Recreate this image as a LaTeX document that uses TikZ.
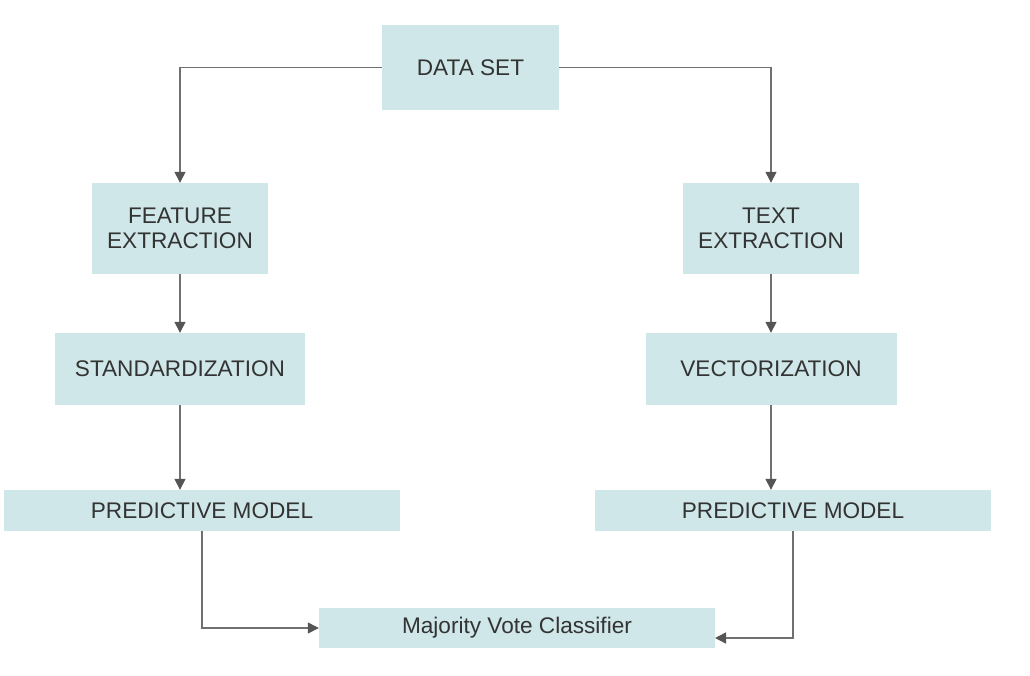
\documentclass[tikz,border=0pt]{standalone}
\usepackage{fontspec}
\setmainfont{Liberation Sans}
\usetikzlibrary{arrows.meta}
\definecolor{boxfill}{HTML}{CFE7E8}
\definecolor{txt}{HTML}{333333}
\definecolor{linec}{HTML}{707070}
\definecolor{tipc}{HTML}{555555}
\begin{document}
\begin{tikzpicture}[x=1pt,y=-1pt,
  box/.style={rectangle, fill=boxfill, draw=none, inner sep=0pt, align=center,
    text=txt, font=\fontsize{22.6}{25}\selectfont},
  conn/.style={draw=linec, line width=1.4pt,
    -{Triangle[length=11pt,width=11pt,color=tipc]}}]
\useasboundingbox (0,0) rectangle (1030,675);
\node[box, minimum width=177pt, minimum height=85pt] (ds) at (470.5,67.5) {DATA SET};
\node[box, minimum width=176pt, minimum height=91pt] (fe) at (180,228.5) {FEATURE\\EXTRACTION};
\node[box, minimum width=176pt, minimum height=91pt] (te) at (771,228.5) {TEXT\\EXTRACTION};
\node[box, minimum width=250pt, minimum height=72pt] (st) at (180,369) {STANDARDIZATION};
\node[box, minimum width=251pt, minimum height=72pt] (ve) at (771,369) {VECTORIZATION};
\node[box, minimum width=396pt, minimum height=41pt] (pm1) at (202,510.5) {PREDICTIVE MODEL};
\node[box, minimum width=396pt, minimum height=41pt] (pm2) at (793,510.5) {PREDICTIVE MODEL};
\node[box, minimum width=396pt, minimum height=40pt] (mv) at (517,628) {Majority Vote Classifier};
\coordinate (mvin) at (715,638);
\draw[conn] (ds.west) -| (fe.north);
\draw[conn] (ds.east) -| (te.north);
\draw[conn] (fe.south) -- (st.north);
\draw[conn] (te.south) -- (te.south |- ve.north);
\draw[conn] (st.south) -- (st.south |- pm1.north);
\draw[conn] (ve.south) -- (ve.south |- pm2.north);
\draw[conn] (pm1.south) |- (mv.west);
\draw[conn] (pm2.south) |- (mvin);
\end{tikzpicture}
\end{document}
